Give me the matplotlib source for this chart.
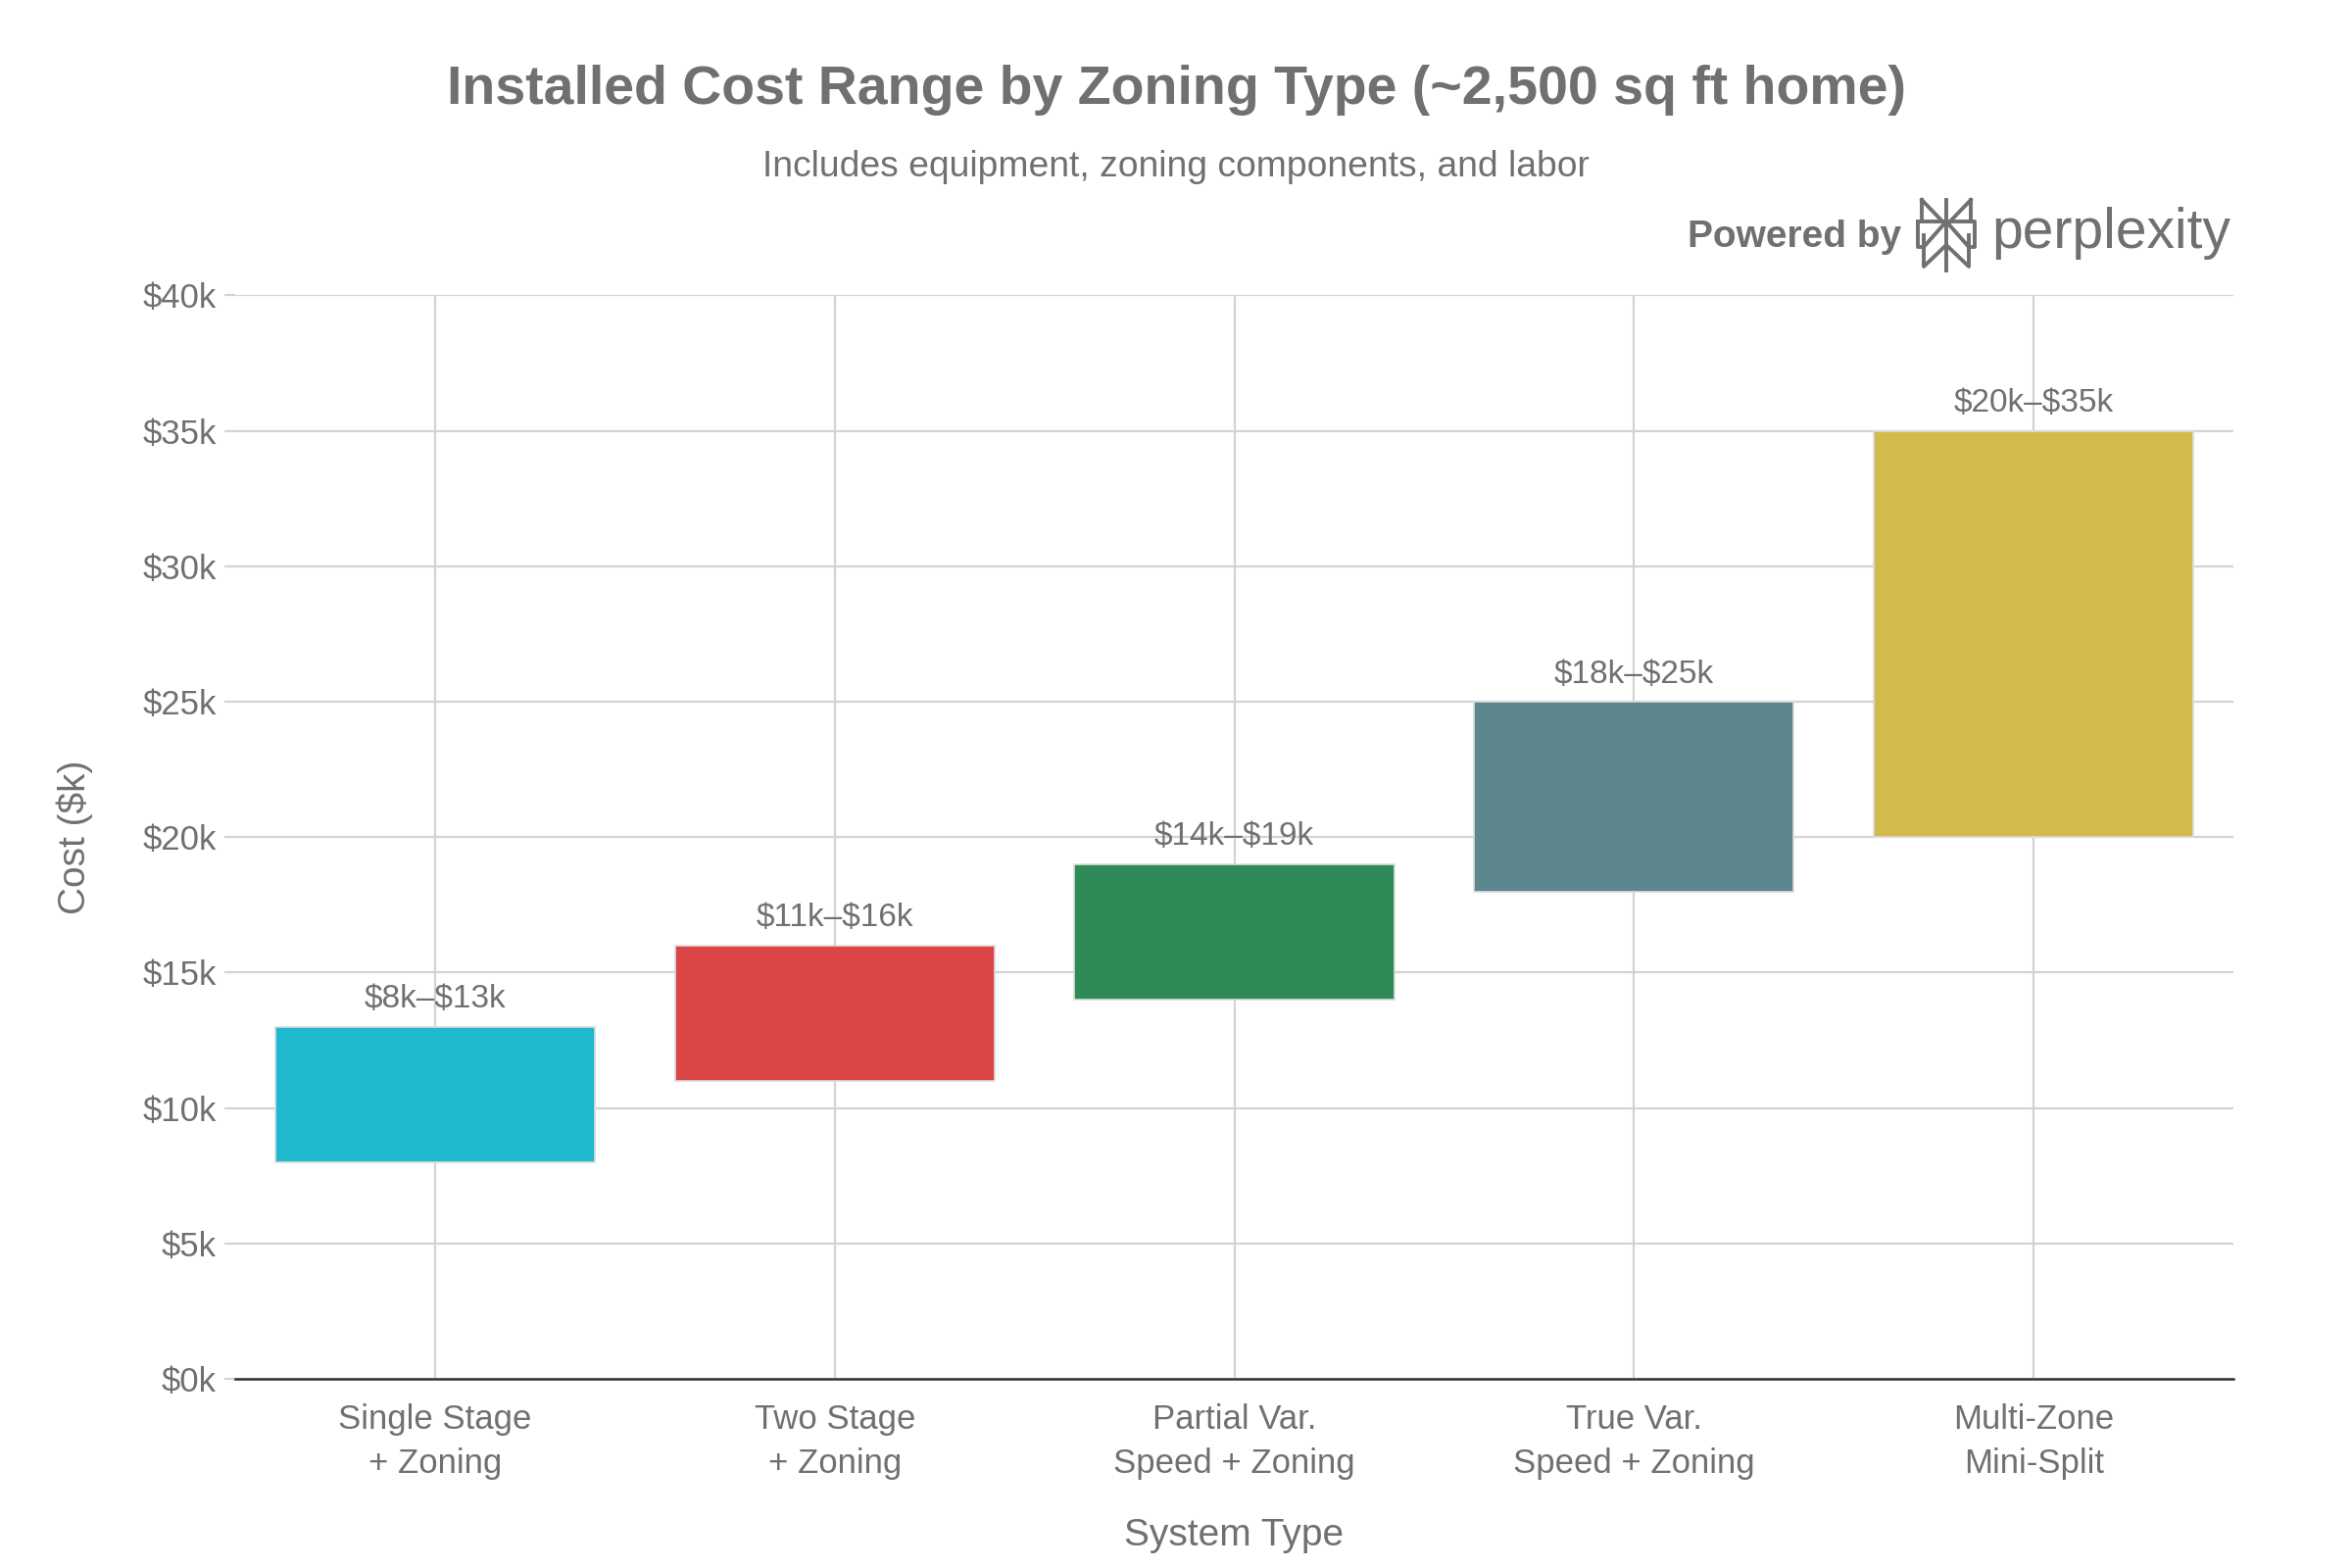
import matplotlib
matplotlib.use("Agg")
import matplotlib.pyplot as plt
from matplotlib.lines import Line2D

plt.rcParams['font.family'] = ['Liberation Sans', 'DejaVu Sans']

categories = ["Single Stage\n+ Zoning", "Two Stage\n+ Zoning", "Partial Var.\nSpeed + Zoning",
              "True Var.\nSpeed + Zoning", "Multi-Zone\nMini-Split"]
low_k = [8, 11, 14, 18, 20]
high_k = [13, 16, 19, 25, 35]
colors = ["#1FB8CD", "#DB4545", "#2E8B57", "#5D878F", "#D2BA4C"]
yticks = [0, 5, 10, 15, 20, 25, 30, 35, 40]
ytick_labels = ["$0k", "$5k", "$10k", "$15k", "$20k", "$25k", "$30k", "$35k", "$40k"]

TXT = "#707070"

fig = plt.figure(figsize=(12, 8), dpi=200)
ax = fig.add_axes([0.1, 0.1206, 0.8496, 0.691])

x = list(range(len(categories)))
heights = [h - l for l, h in zip(low_k, high_k)]
ax.bar(x, heights, bottom=low_k, width=0.8, color=colors, edgecolor="#dddddd", linewidth=0.6, zorder=3)
for xi, l, h in zip(x, low_k, high_k):
    ax.text(xi, h + 0.45, f"${l}k\u2013${h}k", ha="center", va="bottom", fontsize=12,
            color=TXT, zorder=4, parse_math=False)

ax.set_xlim(-0.5, 4.5)
ax.set_ylim(0, 40)
ax.set_yticks(yticks)
ax.set_yticklabels(ytick_labels)
ax.set_xticks(x)
ax.set_xticklabels(categories, linespacing=1.45)
ax.grid(True, color="#d3d3d3", linewidth=0.8, zorder=0)
ax.set_axisbelow(True)
for s in ["left", "right", "top"]:
    ax.spines[s].set_visible(False)
ax.spines["bottom"].set_color("#333333")
ax.spines["bottom"].set_linewidth(0.9)
ax.tick_params(axis="y", length=4, width=0.8, color="#d3d3d3", labelsize=12.5, labelcolor=TXT, pad=3)
ax.tick_params(axis="x", length=0, labelsize=12.5, labelcolor=TXT, pad=9)
ax.set_xlabel("System Type", fontsize=14, color=TXT, labelpad=14)
ax.set_ylabel("Cost ($k)", fontsize=14, color=TXT, labelpad=18)

fig.text(0.5, 1 - 92 / 1600, "Installed Cost Range by Zoning Type (~2,500 sq ft home)",
         ha="center", va="center", fontsize=20, fontweight="bold", color=TXT)
fig.text(0.5, 1 - 170 / 1600, "Includes equipment, zoning components, and labor",
         ha="center", va="center", fontsize=13.4, color=TXT)

# Powered by perplexity badge
fig.text(1940 / 2400, 1 - 242 / 1600, "Powered by", ha="right", va="center", fontsize=14,
         fontweight="bold", color=TXT)
fig.text(2032 / 2400, 1 - 238 / 1600, "perplexity", ha="left", va="center", fontsize=20.5, color=TXT)

def P(px, py):
    return (px / 2400, 1 - py / 1600)

lx0, lx1, lxc = 1957, 2015, 1986
ly0, ly1 = 204, 276
segs = [
    [(lx0 + 4, ly0), (lxc, ly0 + 26), (lx1 - 4, ly0)],
    [(lx0 + 4, ly0), (lx0 + 4, ly0 + 22)],
    [(lx1 - 4, ly0), (lx1 - 4, ly0 + 22)],
    [(lxc, ly0), (lxc, ly1)],
    [(lx0, ly0 + 22), (lx1, ly0 + 22), (lx1, ly0 + 48), (lx1 - 6, ly0 + 48)],
    [(lx0, ly0 + 22), (lx0, ly0 + 48), (lx0 + 6, ly0 + 48)],
    [(lx0 + 6, ly0 + 48), (lxc, ly0 + 22), (lx1 - 6, ly0 + 48)],
    [(lx0 + 6, ly0 + 36), (lx0 + 6, ly1 - 4), (lxc, ly0 + 46), (lx1 - 6, ly1 - 4), (lx1 - 6, ly0 + 36)],
]
for seg in segs:
    xs = [P(a, b)[0] for a, b in seg]
    ys = [P(a, b)[1] for a, b in seg]
    fig.add_artist(Line2D(xs, ys, color=TXT, linewidth=1.4, transform=fig.transFigure))

fig.savefig("out.png", dpi=200, facecolor="white")
